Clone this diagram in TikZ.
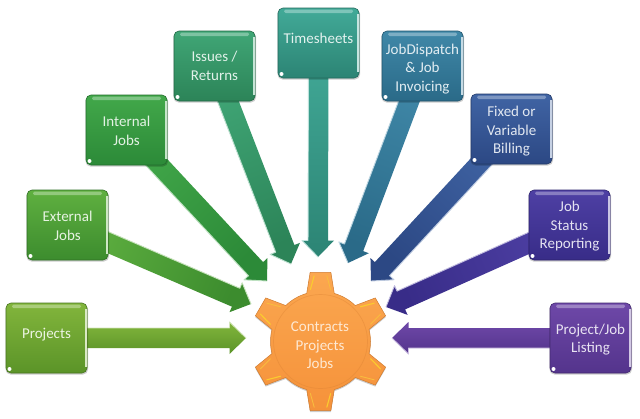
\documentclass[tikz,border=0pt]{standalone}
\usepackage{fontspec}
\setmainfont{Carlito}
\usetikzlibrary{calc}
\pgfdeclarelayer{bg}
\pgfsetlayers{bg,main}
\definecolor{prjA}{HTML}{82B53C}\definecolor{prjB}{HTML}{5B9428}
\definecolor{extA}{HTML}{5FB040}\definecolor{extB}{HTML}{3C8C2E}
\definecolor{intA}{HTML}{42A84A}\definecolor{intB}{HTML}{2C8A38}
\definecolor{issA}{HTML}{40A676}\definecolor{issB}{HTML}{2C8458}
\definecolor{timA}{HTML}{42AA98}\definecolor{timB}{HTML}{2C8474}
\definecolor{jobA}{HTML}{4088A8}\definecolor{jobB}{HTML}{2A6A88}
\definecolor{fixA}{HTML}{4064A4}\definecolor{fixB}{HTML}{2C4884}
\definecolor{staA}{HTML}{4E40A4}\definecolor{staB}{HTML}{382C88}
\definecolor{lisA}{HTML}{6E48A8}\definecolor{lisB}{HTML}{54348C}
\definecolor{gearA}{HTML}{FBA750}\definecolor{gearB}{HTML}{F5923A}
\tikzset{
  boxnode/.style={minimum width=81pt,minimum height=70pt,inner sep=0pt,rounded corners=5pt,outer sep=0pt},
  lbl/.style={font=\fontsize{15}{18.5}\selectfont,align=center,inner sep=0pt,text=white!85!#1},
  gearlbl/.style={font=\fontsize{15}{18.5}\selectfont,align=center,inner sep=0pt,text=white!75!gearA}
}
% name, left, top, colour A, colour B, label offset below top, text
\newcommand\gbox[7]{%
  \fill[black,opacity=.2,rounded corners=5pt] (#2-.5,#3+1) rectangle (#2+82,#3+71.5);
  \node[boxnode,top color=#4,bottom color=#5,anchor=north west] (#1) at (#2,#3) {};
  \fill[#4!68!white,rounded corners=1.5pt] ($(#1.north west)+(6,1.5)$) rectangle ($(#1.north east)+(-6,5)$);
  \draw[#5!80!black,line width=.6pt,rounded corners=5pt] (#1.north west) rectangle (#1.south east);
  \draw[white!70!#4,line width=1.2pt] ($(#1.north east)+(-1,6)$) -- ($(#1.south east)+(-1,-6)$);
  \fill[white] ($(#1.south west)+(3.5,-4)$) circle (2pt);
  \node[lbl=#4] (#1t) at ($(#1.north)+(0,#6)$) {#7};
}
% from node, tip, colour at start, colour at end, shading angle, highlight side L/R
\newcommand\garrow[6]{%
  \begin{pgfonlayer}{bg}
  \coordinate (hb) at ($(#2)!16.5pt!(#1.center)$);
  \coordinate (sa) at ($(#1.center)!10pt!90:(#2)$);
  \coordinate (sb) at ($(#1.center)!10pt!-90:(#2)$);
  \coordinate (na) at ($(hb)!10pt!90:(#2)$);
  \coordinate (nb) at ($(hb)!10pt!-90:(#2)$);
  \coordinate (ha) at ($(hb)!16pt!90:(#2)$);
  \coordinate (hc) at ($(hb)!16pt!-90:(#2)$);
  \shade[top color=#3,bottom color=#4,shading angle=#5]
     (sa) -- (na) -- (ha) -- (#2) -- (hc) -- (nb) -- (sb) -- cycle;
  \if#6L
    \draw[white!65!#3,line width=.9pt,line join=round] (sa) -- (na) -- (ha) -- (#2);
  \else
    \draw[white!65!#3,line width=.9pt,line join=round] (sb) -- (nb) -- (hc) -- (#2);
  \fi
  \end{pgfonlayer}
}
\begin{document}
\begin{tikzpicture}[x=1pt,y=-1pt]
\useasboundingbox (0,0) rectangle (640,418);
\begin{pgfonlayer}{bg}
\fill[white] (0,0) rectangle (640,418);
\end{pgfonlayer}

\gbox{prj}{6}{303}{prjA}{prjB}{32}{Projects}
\gbox{ext}{27}{190}{extA}{extB}{36}{External\\Jobs}
\gbox{int}{86}{95}{intA}{intB}{36}{Internal\\Jobs}
\gbox{iss}{174}{31}{issA}{issB}{35}{Issues /\\Returns}
\gbox{tim}{278}{8}{timA}{timB}{30}{Timesheets}
\gbox{job}{382}{31}{jobA}{jobB}{38}{JobDispatch\\\& Job\\Invoicing}
\gbox{fix}{471}{94}{fixA}{fixB}{37.5}{Fixed or\\Variable\\Billing}
\gbox{sta}{529}{190}{staA}{staB}{36.5}{Job\\Status\\Reporting}
\gbox{lis}{550}{303}{lisA}{lisB}{36.5}{Project/Job\\Listing}

\coordinate (tprj) at (246,338);
\coordinate (text) at (251,304);
\coordinate (tint) at (267,281);
\coordinate (tiss) at (291,264);
\coordinate (ttim) at (318,257);
\coordinate (tjob) at (348,263);
\coordinate (tfix) at (371,281);
\coordinate (tsta) at (386,307);
\coordinate (tlis) at (392,338);

\garrow{prj}{tprj}{prjA}{prjB}{0}{L}
\garrow{ext}{text}{extA}{extB}{67}{L}
\garrow{int}{tint}{intA}{intB}{43}{R}
\garrow{iss}{tiss}{issA}{issB}{21}{R}
\garrow{tim}{ttim}{timA}{timB}{0}{R}
\garrow{job}{tjob}{jobA}{jobB}{-20}{R}
\garrow{fix}{tfix}{fixA}{fixB}{-43}{L}
\garrow{sta}{tsta}{staA}{staB}{-67}{R}
\garrow{lis}{tlis}{lisA}{lisB}{0}{L}

% gear
\node[gearlbl] (gear) at (320,345.5) {Contracts\\Projects\\Jobs};
\coordinate (gc) at (320.5,341.5);
\begin{pgfonlayer}{bg}
\fill[black,opacity=.2,shift={($(gc)+(0,1.5)$)}]
  (14:50pt) \foreach \a in {30,90,150,210,270,330}{
    -- (\a-16:50pt) -- (\a-8.5:70pt) -- (\a+8.5:70pt) -- (\a+16:50pt)
    arc[start angle=\a+16,end angle=\a+44,radius=50pt] } -- cycle;
\shade[top color=gearA,bottom color=gearB,draw=gearB!85!black,line width=.5pt,shift={(gc)}]
  (14:50pt) \foreach \a in {30,90,150,210,270,330}{
    -- (\a-16:50pt) -- (\a-8.5:70pt) -- (\a+8.5:70pt) -- (\a+16:50pt)
    arc[start angle=\a+16,end angle=\a+44,radius=50pt] } -- cycle;
\draw[gearB!90!black,opacity=.4,line width=.7pt,shift={(gc)}] (0,0) circle (47pt);
\foreach \a in {30,90,150,210,270,330}{
  \draw[yellow!45!gearA,line width=1.1pt,line cap=round,shift={(gc)}] (\a+5.5:66pt) -- (\a+11:53pt);
  \draw[yellow!25!gearA,line width=.9pt,line cap=round,shift={(gc)}] (\a-5.5:66pt) -- (\a-11:53pt);
}
\end{pgfonlayer}
\end{tikzpicture}
\end{document}
